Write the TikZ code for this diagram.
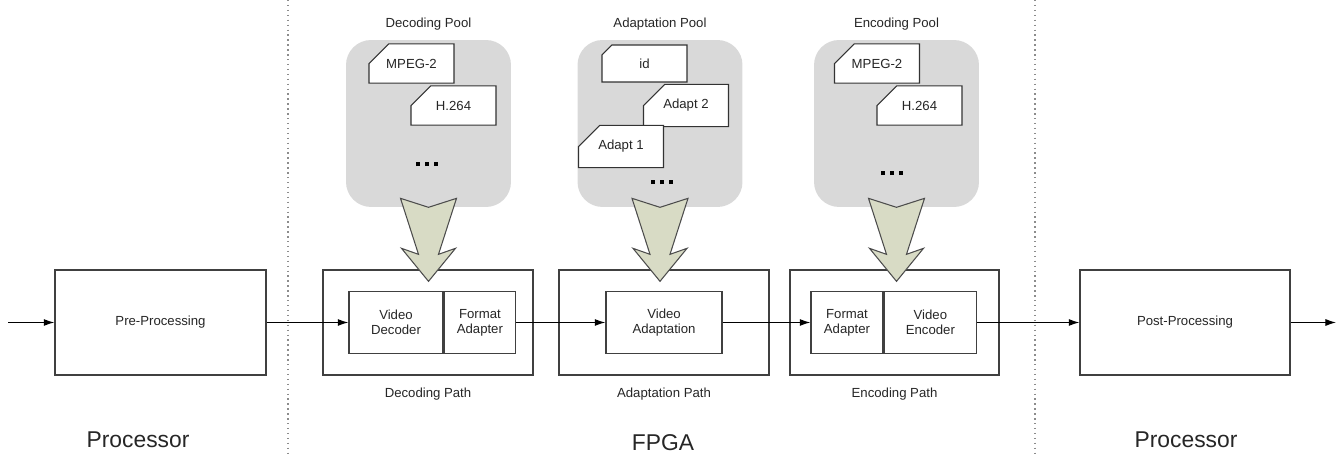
\documentclass[tikz,border=0pt]{standalone}
\usepackage{fontspec}
\setmainfont{Liberation Sans}
\usetikzlibrary{positioning, arrows.meta, shapes.misc}

\definecolor{poolgray}{RGB}{217,217,217}
\definecolor{arrowfill}{RGB}{216,219,197}
\definecolor{linegray}{RGB}{64,64,64}

\newcommand{\tripledot}{\rule{2.3pt}{2.3pt}\hspace{2.6pt}\rule{2.3pt}{2.3pt}\hspace{2.6pt}\rule{2.3pt}{2.3pt}}

\tikzset{
  small/.style={font=\fontsize{7.5}{8.5}\selectfont, text=black!85},
  big/.style={font=\fontsize{13}{15}\selectfont, text=black!85},
  block/.style={draw=linegray, line width=0.8pt, small, align=center, inner sep=0pt, minimum height=2.1cm},
  inblock/.style={draw=linegray, line width=0.8pt, small, align=center, inner sep=0pt, minimum height=1.24cm},
  pool/.style={fill=poolgray, rounded corners=0.5cm, minimum width=3.3cm, minimum height=3.34cm},
  card/.style={chamfered rectangle, chamfered rectangle corners=north west,
    chamfered rectangle xsep=0.42cm, chamfered rectangle ysep=0.3cm,
    draw=black!80, fill=white, line width=0.6pt, small, minimum width=1.7cm, minimum height=0.74cm, inner sep=0pt},
  flow/.style={-{Latex[length=6pt,width=4pt]}, line width=0.6pt},
  bigarrow/.style={draw=black!70, fill=arrowfill, line width=0.6pt, line join=miter},
  divider/.style={black!45, dotted, line width=0.8pt}
}

\begin{document}
\begin{tikzpicture}[x=0.02cm, y=-0.02cm]
  \useasboundingbox (0,0) rectangle (1343,455);

  % dividers
  \draw[divider] (288,0) -- (288,455);
  \draw[divider] (1035,0) -- (1035,455);

  % pools
  \node[pool] (decpool) at (428.5,123.5) {};
  \node[pool] (adppool) at (660,123.5) {};
  \node[pool] (encpool) at (896.5,123.5) {};
  \node[small, above=0.06cm of decpool] (declbl) {Decoding Pool};
  \node[small, above=0.06cm of adppool] (adplbl) {Adaptation Pool};
  \node[small, above=0.06cm of encpool] (enclbl) {Encoding Pool};

  \node[card] (decmpeg) at (411.5,63.5) {MPEG-2};
  \node[card] (dech264) at (453.5,105.5) {H.264};
  \node (decdots) at (427,164) {\tripledot};

  \node[card] (adpid) at (644.5,63.5) {id};
  \node[card] (adptwo) at (686,105.5) {Adapt 2};
  \node[card] (adpone) at (621,146.5) {Adapt 1};
  \node (adpdots) at (662,182) {\tripledot};

  \node[card] (encmpeg) at (877,63.5) {MPEG-2};
  \node[card] (ench264) at (919.5,105.5) {H.264};
  \node (encdots) at (892,173) {\tripledot};

  % processing chain
  \coordinate (inl) at (8,322.5);
  \coordinate (outr) at (1336,322.5);
  \node[block, minimum width=4.22cm] (pre) at (160.5,322.5) {Pre-Processing};
  \node[block, minimum width=4.2cm] (decpath) at (428,322.5) {};
  \node[block, minimum width=4.2cm] (adppath) at (664,322.5) {};
  \node[block, minimum width=4.18cm] (encpath) at (894.5,322.5) {};
  \node[block, minimum width=4.2cm] (post) at (1185,322.5) {Post-Processing};

  \node[inblock, minimum width=1.88cm] (vdec) at (396,322.5) {Video\\Decoder};
  \node[inblock, minimum width=1.42cm, right=0pt of vdec] (fadapdec) {Format\\Adapter};
  \node[inblock, minimum width=2.32cm] (vadp) at (664,322.5) {Video\\Adaptation};
  \node[inblock, minimum width=1.44cm] (fadapenc) at (847,322.5) {Format\\Adapter};
  \node[inblock, minimum width=1.84cm, right=0pt of fadapenc] (venc) {Video\\Encoder};

  \node[small, below=0.12cm of decpath] (decpathlbl) {Decoding Path};
  \node[small, below=0.12cm of adppath] (adppathlbl) {Adaptation Path};
  \node[small, below=0.12cm of encpath] (encpathlbl) {Encoding Path};

  \draw[flow] (inl) -- (pre);
  \draw[flow] (pre) -- (vdec);
  \draw[flow] (fadapdec) -- (vadp);
  \draw[flow] (vadp) -- (fadapenc);
  \draw[flow] (venc) -- (post);
  \draw[flow] (post) -- (outr);

  % pool arrows
  \foreach \p in {decpool, adppool, encpool}
    \draw[bigarrow] (\p.south) -- ++(28,-9) -- ++(-18,56) -- ++(17,-6) -- ++(-27,33)
      -- ++(-27,-33) -- ++(17,6) -- ++(-18,-56) -- cycle;

  \node[big] (procl) at (138,440) {Processor};
  \node[big] (fpga) at (663,443) {FPGA};
  \node[big] (procr) at (1186,440) {Processor};
\end{tikzpicture}
\end{document}
